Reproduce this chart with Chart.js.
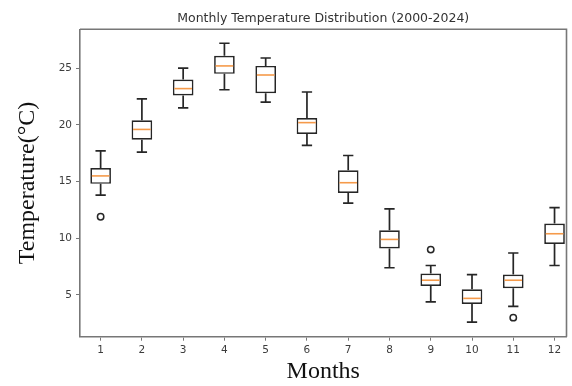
<!DOCTYPE html>
<html>
<head>
<meta charset="utf-8">
<script src="https://cdn.jsdelivr.net/npm/chart.js@4.4.1/dist/chart.umd.min.js"></script>
<style>
  html, body { margin: 0; padding: 0; background: #fff; }
  #chart { display: block; }
</style>
</head>
<body>
<canvas id="chart" width="572" height="386"></canvas>
<script>
const months = [1, 2, 3, 4, 5, 6, 7, 8, 9, 10, 11, 12];
const whiskerLow  = [13.8, 17.6, 21.5, 23.1, 22.0, 18.2, 13.1, 7.4, 4.4, 2.6, 4.0, 7.6];
const q1          = [14.8, 18.7, 22.6, 24.5, 22.8, 19.2, 14.0, 9.1, 5.8, 4.2, 5.6, 9.5];
const medians     = [15.5, 19.6, 23.2, 25.2, 24.4, 20.2, 14.9, 9.9, 6.3, 4.7, 6.3, 10.4];
const q3          = [16.2, 20.4, 24.0, 26.1, 25.2, 20.6, 16.0, 10.7, 6.9, 5.5, 6.8, 11.3];
const whiskerHigh = [17.7, 22.3, 25.0, 27.2, 25.9, 22.9, 17.3, 12.6, 7.6, 6.8, 8.7, 12.7];
const outlierMonths = [1, 9, 11];
const outlierValues = [11.9, 9.0, 3.0];
const yTicks = [5, 10, 15, 20, 25];

const edgeColor = '#262626';
const medianColor = '#f59a4a';
const spineColor = '#777777';

// whiskers, caps and medians drawn from the scales
const boxExtras = {
  id: 'boxExtras',
  afterDatasetsDraw(chart) {
    const {ctx, scales: {x, y}} = chart;
    ctx.save();
    ctx.lineCap = 'butt';
    months.forEach((m, i) => {
      const cx = x.getPixelForValue(m);
      const boxHalf = x.getPixelForValue(m + 0.25) - cx;
      const capHalf = x.getPixelForValue(m + 0.125) - cx;
      ctx.strokeStyle = edgeColor;
      ctx.lineWidth = 1.7;
      ctx.beginPath();
      ctx.moveTo(cx, y.getPixelForValue(q3[i]));
      ctx.lineTo(cx, y.getPixelForValue(whiskerHigh[i]));
      ctx.moveTo(cx, y.getPixelForValue(q1[i]));
      ctx.lineTo(cx, y.getPixelForValue(whiskerLow[i]));
      ctx.moveTo(cx - capHalf, y.getPixelForValue(whiskerHigh[i]));
      ctx.lineTo(cx + capHalf, y.getPixelForValue(whiskerHigh[i]));
      ctx.moveTo(cx - capHalf, y.getPixelForValue(whiskerLow[i]));
      ctx.lineTo(cx + capHalf, y.getPixelForValue(whiskerLow[i]));
      ctx.stroke();
      ctx.strokeStyle = medianColor;
      ctx.lineWidth = 1.6;
      ctx.beginPath();
      ctx.moveTo(cx - boxHalf + 1.5, y.getPixelForValue(medians[i]));
      ctx.lineTo(cx + boxHalf - 1.5, y.getPixelForValue(medians[i]));
      ctx.stroke();
    });
    // top and right spines
    const a = chart.chartArea;
    ctx.strokeStyle = spineColor;
    ctx.lineWidth = 1.6;
    ctx.beginPath();
    ctx.moveTo(a.left, a.top);
    ctx.lineTo(a.right, a.top);
    ctx.lineTo(a.right, a.bottom);
    ctx.stroke();
    ctx.restore();
  }
};

new Chart(document.getElementById('chart'), {
  type: 'bar',
  data: {
    datasets: [
      {
        type: 'bar',
        label: 'IQR',
        data: months.map((m, i) => ({x: m, y: [q1[i], q3[i]]})),
        backgroundColor: '#ffffff',
        borderColor: edgeColor,
        borderWidth: 1.7,
        borderSkipped: false,
        barPercentage: 0.5,
        categoryPercentage: 1.0
      },
      {
        type: 'scatter',
        label: 'Outliers',
        data: outlierMonths.map((m, i) => ({x: m, y: outlierValues[i]})),
        pointStyle: 'circle',
        pointRadius: 3.2,
        backgroundColor: '#ffffff',
        borderColor: edgeColor,
        borderWidth: 1.5
      }
    ]
  },
  options: {
    responsive: false,
    animation: false,
    layout: { padding: { left: 0, right: 0, top: 0, bottom: 0 } },
    plugins: {
      legend: { display: false },
      tooltip: { enabled: false },
      title: {
        display: true,
        fullSize: false,
        text: 'Monthly Temperature Distribution (2000-2024)',
        color: '#333',
        font: { family: 'DejaVu Sans', size: 12.5, weight: 'normal', lineHeight: 1.2 },
        padding: { top: 11, bottom: 3.3 }
      }
    },
    scales: {
      x: {
        type: 'linear',
        offset: false,
        min: 0.5,
        max: 12.29,
        afterBuildTicks: (scale) => { scale.ticks = months.map(v => ({value: v})); },
        afterFit: (scale) => { scale.height = 49.3; },
        grid: { display: true, offset: false, drawOnChartArea: false, drawTicks: true, tickLength: 4, color: spineColor, lineWidth: 1 },
        border: { display: true, color: spineColor, width: 1.6 },
        ticks: { color: '#3c3c3c', padding: 3, font: { family: 'DejaVu Sans', size: 10.5 } },
        title: {
          display: true,
          text: 'Months',
          color: '#111',
          font: { family: 'Liberation Serif', size: 24, lineHeight: 1 },
          padding: { top: 0, bottom: 2 }
        }
      },
      y: {
        type: 'linear',
        min: 1.32,
        max: 28.43,
        afterBuildTicks: (scale) => { scale.ticks = yTicks.map(v => ({value: v})); },
        afterFit: (scale) => { scale.width = 80; },
        grid: { display: true, drawOnChartArea: false, drawTicks: true, tickLength: 4, color: spineColor, lineWidth: 1 },
        border: { display: true, color: spineColor, width: 1.6 },
        ticks: { color: '#3c3c3c', padding: 4, font: { family: 'DejaVu Sans', size: 10.5 } },
        title: {
          display: true,
          text: 'Temperature(°C)',
          color: '#111',
          font: { family: 'Liberation Serif', size: 24, lineHeight: 1 },
          padding: { top: 16, bottom: 0 }
        }
      }
    }
  },
  plugins: [boxExtras]
});
</script>
</body>
</html>
